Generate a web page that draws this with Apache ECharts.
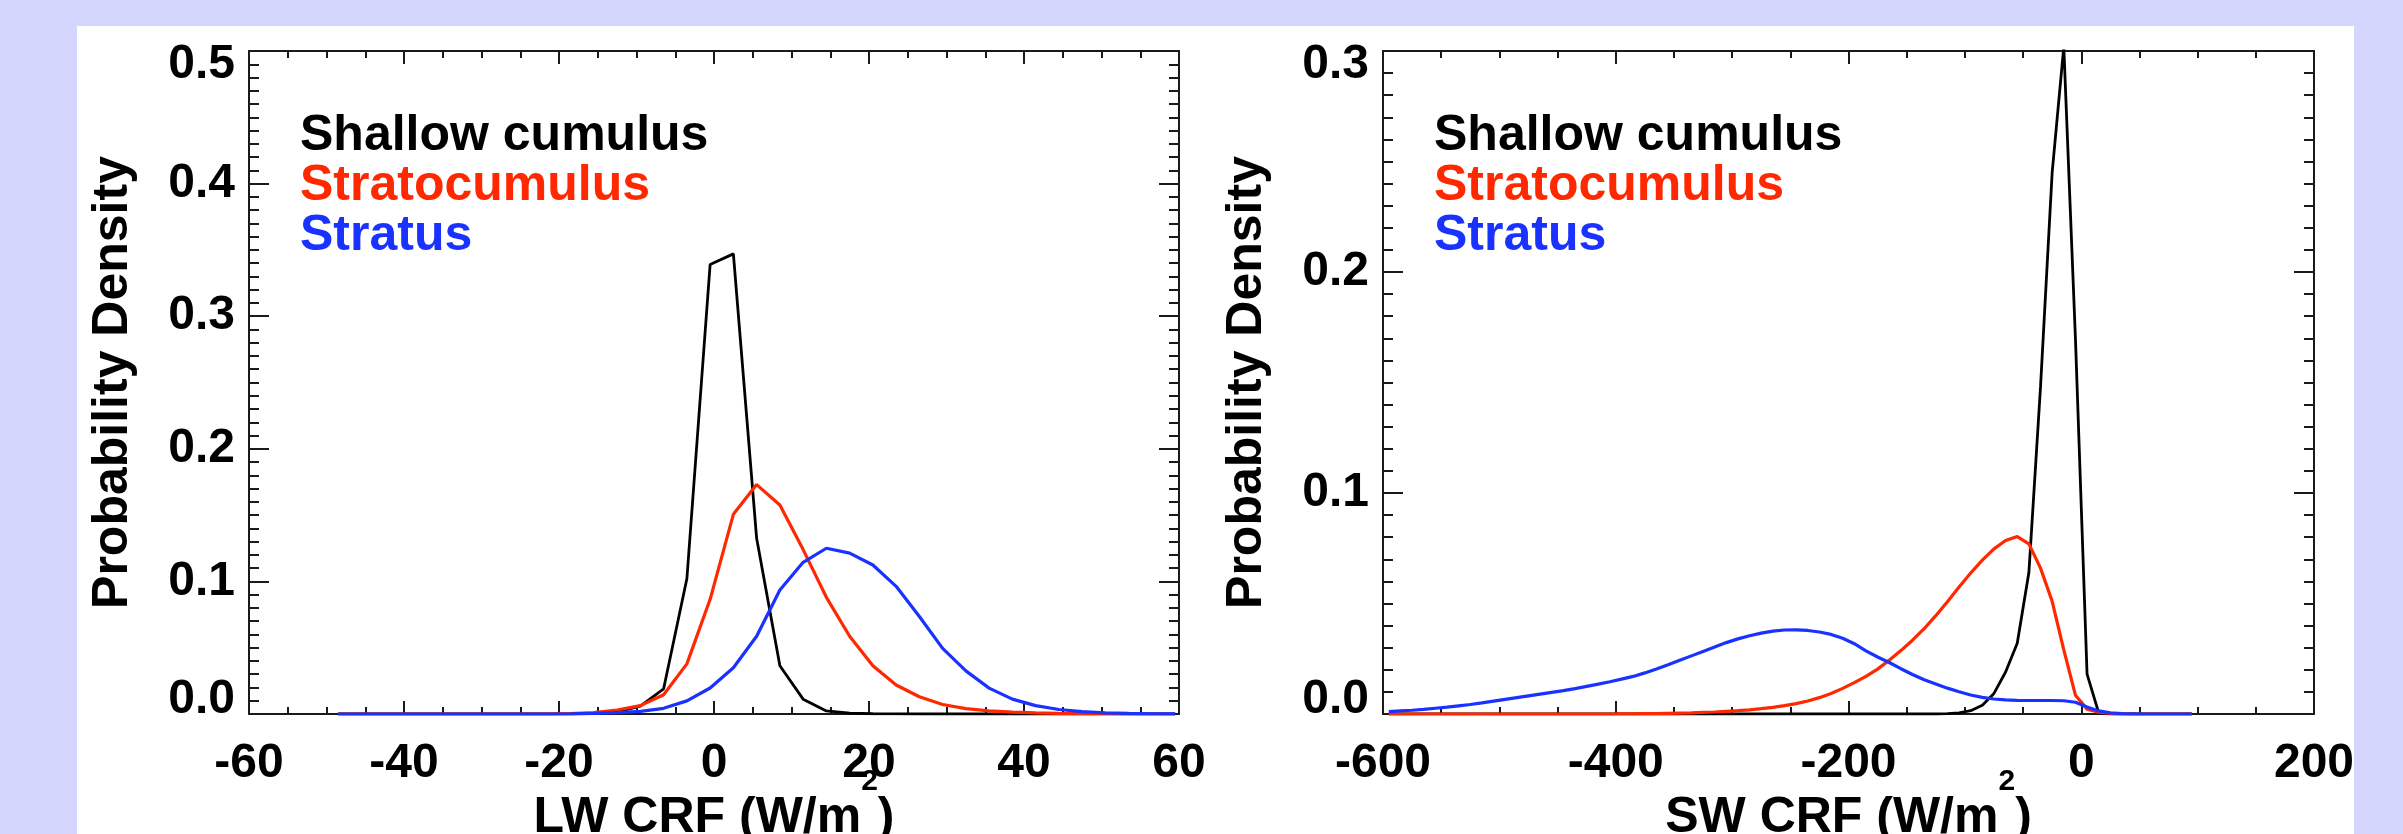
<!DOCTYPE html>
<html>
<head>
<meta charset="utf-8">
<script src="https://cdn.jsdelivr.net/npm/echarts@6/dist/echarts.min.js"></script>
<style>
html,body{margin:0;padding:0;background:#d5d6fd;overflow:hidden;}
#panel{position:absolute;left:77px;top:26px;width:2277px;height:808px;background:#ffffff;}
#c{position:absolute;left:0;top:0;width:2403px;height:834px;}
</style>
</head>
<body>
<div id="panel"></div>
<div id="c"></div>
<script>
// ---------- data ----------
var seriesNames = ['Shallow cumulus', 'Stratocumulus', 'Stratus'];

// LW CRF bins (W/m2)
var lwX = [-48.5,-45.5,-42.5,-39.5,-36.5,-33.5,-30.5,-27.5,-24.5,-21.5,-18.5,-15.5,-12.5,-9.5,-6.5,-3.5,-0.5,2.5,5.5,8.5,11.5,14.5,17.5,20.5,23.5,26.5,29.5,32.5,35.5,38.5,41.5,44.5,47.5,50.5,53.5,56.5,59.5];
var lwShallow = [0,0,0,0,0,0,0,0,0,0,0,0.0003,0.0015,0.006,0.019,0.102,0.339,0.347,0.1325,0.0364,0.0112,0.0023,0.0006,0.0002,0.0001,0,0,0,0,0,0,0,0,0,0,0,0];
var lwStratocu = [0,0,0,0,0,0,0,0,0,0,0.0003,0.001,0.003,0.0063,0.0145,0.0378,0.0865,0.1506,0.173,0.1576,0.124,0.088,0.0586,0.0364,0.0219,0.013,0.0072,0.004,0.0024,0.0014,0.0009,0.0005,0.0003,0.0002,0.0001,0,0];
var lwStratus = [0,0,0,0,0,0,0,0,0,0,0.0002,0.0005,0.001,0.002,0.0043,0.0099,0.0196,0.0349,0.0586,0.0935,0.1144,0.125,0.1213,0.1124,0.0963,0.0735,0.0495,0.0325,0.0195,0.0112,0.0063,0.0034,0.0018,0.0009,0.0005,0.0002,0.0001];

// SW CRF bins (W/m2)
var swX = [-595,-585,-575,-565,-555,-545,-535,-525,-515,-505,-495,-485,-475,-465,-455,-445,-435,-425,-415,-405,
           -395,-385,-375,-365,-355,-345,-335,-325,-315,-305,-295,-285,-275,-265,-255,-245,-235,-225,-215,-205,
           -195,-185,-175,-165,-155,-145,-135,-125,-115,-105,-95,-85,-75,-65,-55,-45,-35,-25,-15,-5,
           5,15,25,35,45,55,65,75,85,95];
var swShallow = [0,0,0,0,0,0,0,0,0,0, 0,0,0,0,0,0,0,0,0,0,
                 0,0,0,0,0,0,0,0,0,0, 0,0,0,0,0,0,0,0,0,0,
                 0,0,0,0,0,0,0,0,0.0002,0.0005, 0.0015,0.004,0.0093,0.019,0.032,0.064,0.148,0.245,0.302,0.17,
                 0.018,0.0005,0,0,0,0,0,0,0,0];
var swStratocu = [0,0,0,0,0,0,0,0,0,0, 0,0,0,0,0,0,0,0,0,0,
                  0.0001,0.0001,0.0002,0.0002,0.0003,0.0004,0.0005,0.0007,0.0009,0.0012,
                  0.0015,0.0019,0.0024,0.003,0.0038,0.0047,0.0059,0.0074,0.0093,0.0116,
                  0.0142,0.017,0.0203,0.0243,0.0287,0.0334,0.0386,0.0445,0.0508,0.0575,
                  0.0638,0.0696,0.0747,0.0785,0.0803,0.077,0.066,0.051,0.029,0.0085,
                  0.0022,0.0008,0.0003,0.0001,0,0,0,0,0,0];
var swStratus = [0.0011,0.0014,0.0017,0.0021,0.0026,0.0031,0.0037,0.0043,0.005,0.0058,
                 0.0066,0.0074,0.0082,0.009,0.0098,0.0106,0.0115,0.0125,0.0135,0.0146,
                 0.0158,0.017,0.0186,0.0204,0.0223,0.0243,0.0263,0.0283,0.0303,0.0323,
                 0.034,0.0354,0.0366,0.0375,0.038,0.0381,0.0378,0.0371,0.036,0.0343,
                 0.0318,0.0286,0.0258,0.0233,0.0205,0.0179,0.0155,0.0136,0.0117,0.0101,
                 0.0086,0.0075,0.0068,0.0064,0.0062,0.0061,0.0061,0.0061,0.006,0.0053,
                 0.0032,0.0014,0.0005,0.0002,0.0001,0,0,0,0,0];

// axis settings
var lwRange = [-60, 60], lwStep = 20, lwYMax = 0.5;
var swRange = [-600, 200], swStep = 200, swYMax = 0.3;
var yStep = 0.1;
var lwTitle = ['LW CRF (W/m', '2', ')'];
var swTitle = ['SW CRF (W/m', '2', ')'];
var yTitle = 'Probability Density';

// ---------- style ----------
var F = '"Liberation Sans", Arial, Helvetica, sans-serif';
var AX = '#1a1a1a';
var COLORS = ['#000000', '#ff2800', '#1a32ff'];
var WIDTHS = [2.8, 3.2, 3.2];

function pairs(xs, ys) { return xs.map(function (x, i) { return [x, ys[i]]; }); }

function xAxisDef(gi, pos, range, step, title) {
  var bottom = pos === 'bottom';
  return {
    type: 'value', gridIndex: gi, position: pos, min: range[0], max: range[1], interval: step,
    axisLine: { show: true, onZero: false, lineStyle: { color: AX, width: 2 } },
    axisTick: { show: true, inside: true, length: 13, lineStyle: { color: AX, width: 2 } },
    minorTick: { show: true, splitNumber: 4, length: 7, lineStyle: { color: AX, width: 2 } },
    splitLine: { show: false }, minorSplitLine: { show: false },
    axisLabel: { show: bottom, margin: 26, fontSize: 48, fontWeight: 'bold', fontFamily: F, color: '#000',
      formatter: function (v) { return String(v); } },
    name: bottom ? '{m|' + title[0] + '}{s|' + title[1] + '}{m|' + title[2] + '}' : '',
    nameLocation: 'middle', nameGap: 49, nameMoveOverlap: false,
    nameTextStyle: {
      rich: {
        m: { fontSize: 50, fontWeight: 'bold', fontFamily: F, color: '#000', padding: [30, 0, 0, 0], verticalAlign: 'bottom' },
        s: { fontSize: 30, fontWeight: 'bold', fontFamily: F, color: '#000', verticalAlign: 'top', padding: [4, 0, 0, 0] }
      }
    }
  };
}

function yAxisDef(gi, pos, ymax) {
  var left = pos === 'left';
  var lbl = { fontSize: 48, fontWeight: 'bold', fontFamily: F, color: '#000' };
  return {
    type: 'value', gridIndex: gi, position: pos, min: 0, max: ymax, interval: yStep,
    axisLine: { show: true, onZero: false, lineStyle: { color: AX, width: 2 } },
    axisTick: { show: true, inside: true, length: 20, lineStyle: { color: AX, width: 2 } },
    minorTick: { show: true, splitNumber: 10, length: 10, lineStyle: { color: AX, width: 2 } },
    splitLine: { show: false }, minorSplitLine: { show: false },
    axisLabel: {
      show: left, margin: 14, fontSize: 48, fontWeight: 'bold', fontFamily: F, color: '#000',
      formatter: function (v) {
        var s = v.toFixed(1);
        if (Math.abs(v - ymax) < 1e-9) return '{hi|' + s + '}';
        if (Math.abs(v) < 1e-9) return '{lo|' + s + '}';
        return s;
      },
      rich: {
        hi: Object.assign({ padding: [28, 0, 0, 0] }, lbl),
        lo: Object.assign({ padding: [0, 0, 28, 0] }, lbl)
      }
    },
    name: left ? yTitle : '', nameLocation: 'middle', nameGap: 111, nameRotate: 90, nameMoveOverlap: false,
    nameTextStyle: { fontSize: 50, fontWeight: 'bold', fontFamily: F, color: '#000' }
  };
}

function legendDef(leftPx) {
  return {
    orient: 'vertical', left: leftPx, top: 106, icon: 'rect', itemWidth: 0, itemHeight: 0, itemGap: 0,
    selectedMode: false,
    textStyle: { fontSize: 50, fontWeight: 'bold', fontFamily: F, lineHeight: 46.5 },
    data: seriesNames.map(function (n, i) { return { name: n, textStyle: { color: COLORS[i] } }; })
  };
}

function lineDef(i, xi, yi, xs, ys) {
  return {
    type: 'line', name: seriesNames[i], xAxisIndex: xi, yAxisIndex: yi, data: pairs(xs, ys),
    showSymbol: false, symbol: 'none', smooth: false, clip: true,
    lineStyle: { color: COLORS[i], width: WIDTHS[i] }, itemStyle: { color: COLORS[i] },
    z: 2 + i, emphasis: { disabled: true }
  };
}

var chart = echarts.init(document.getElementById('c'), null, { renderer: 'canvas' });
chart.setOption({
  backgroundColor: 'transparent',
  animation: false,
  grid: [
    { left: 249, top: 51, width: 930, height: 663, outerBoundsMode: 'none' },
    { left: 1383, top: 51, width: 931, height: 663, outerBoundsMode: 'none' }
  ],
  xAxis: [
    xAxisDef(0, 'bottom', lwRange, lwStep, lwTitle),
    xAxisDef(0, 'top', lwRange, lwStep, lwTitle),
    xAxisDef(1, 'bottom', swRange, swStep, swTitle),
    xAxisDef(1, 'top', swRange, swStep, swTitle)
  ],
  yAxis: [
    yAxisDef(0, 'left', lwYMax),
    yAxisDef(0, 'right', lwYMax),
    yAxisDef(1, 'left', swYMax),
    yAxisDef(1, 'right', swYMax)
  ],
  legend: [legendDef(290), legendDef(1424)],
  series: [
    lineDef(0, 0, 0, lwX, lwShallow),
    lineDef(1, 0, 0, lwX, lwStratocu),
    lineDef(2, 0, 0, lwX, lwStratus),
    lineDef(0, 2, 2, swX, swShallow),
    lineDef(1, 2, 2, swX, swStratocu),
    lineDef(2, 2, 2, swX, swStratus)
  ]
});
</script>
</body>
</html>
